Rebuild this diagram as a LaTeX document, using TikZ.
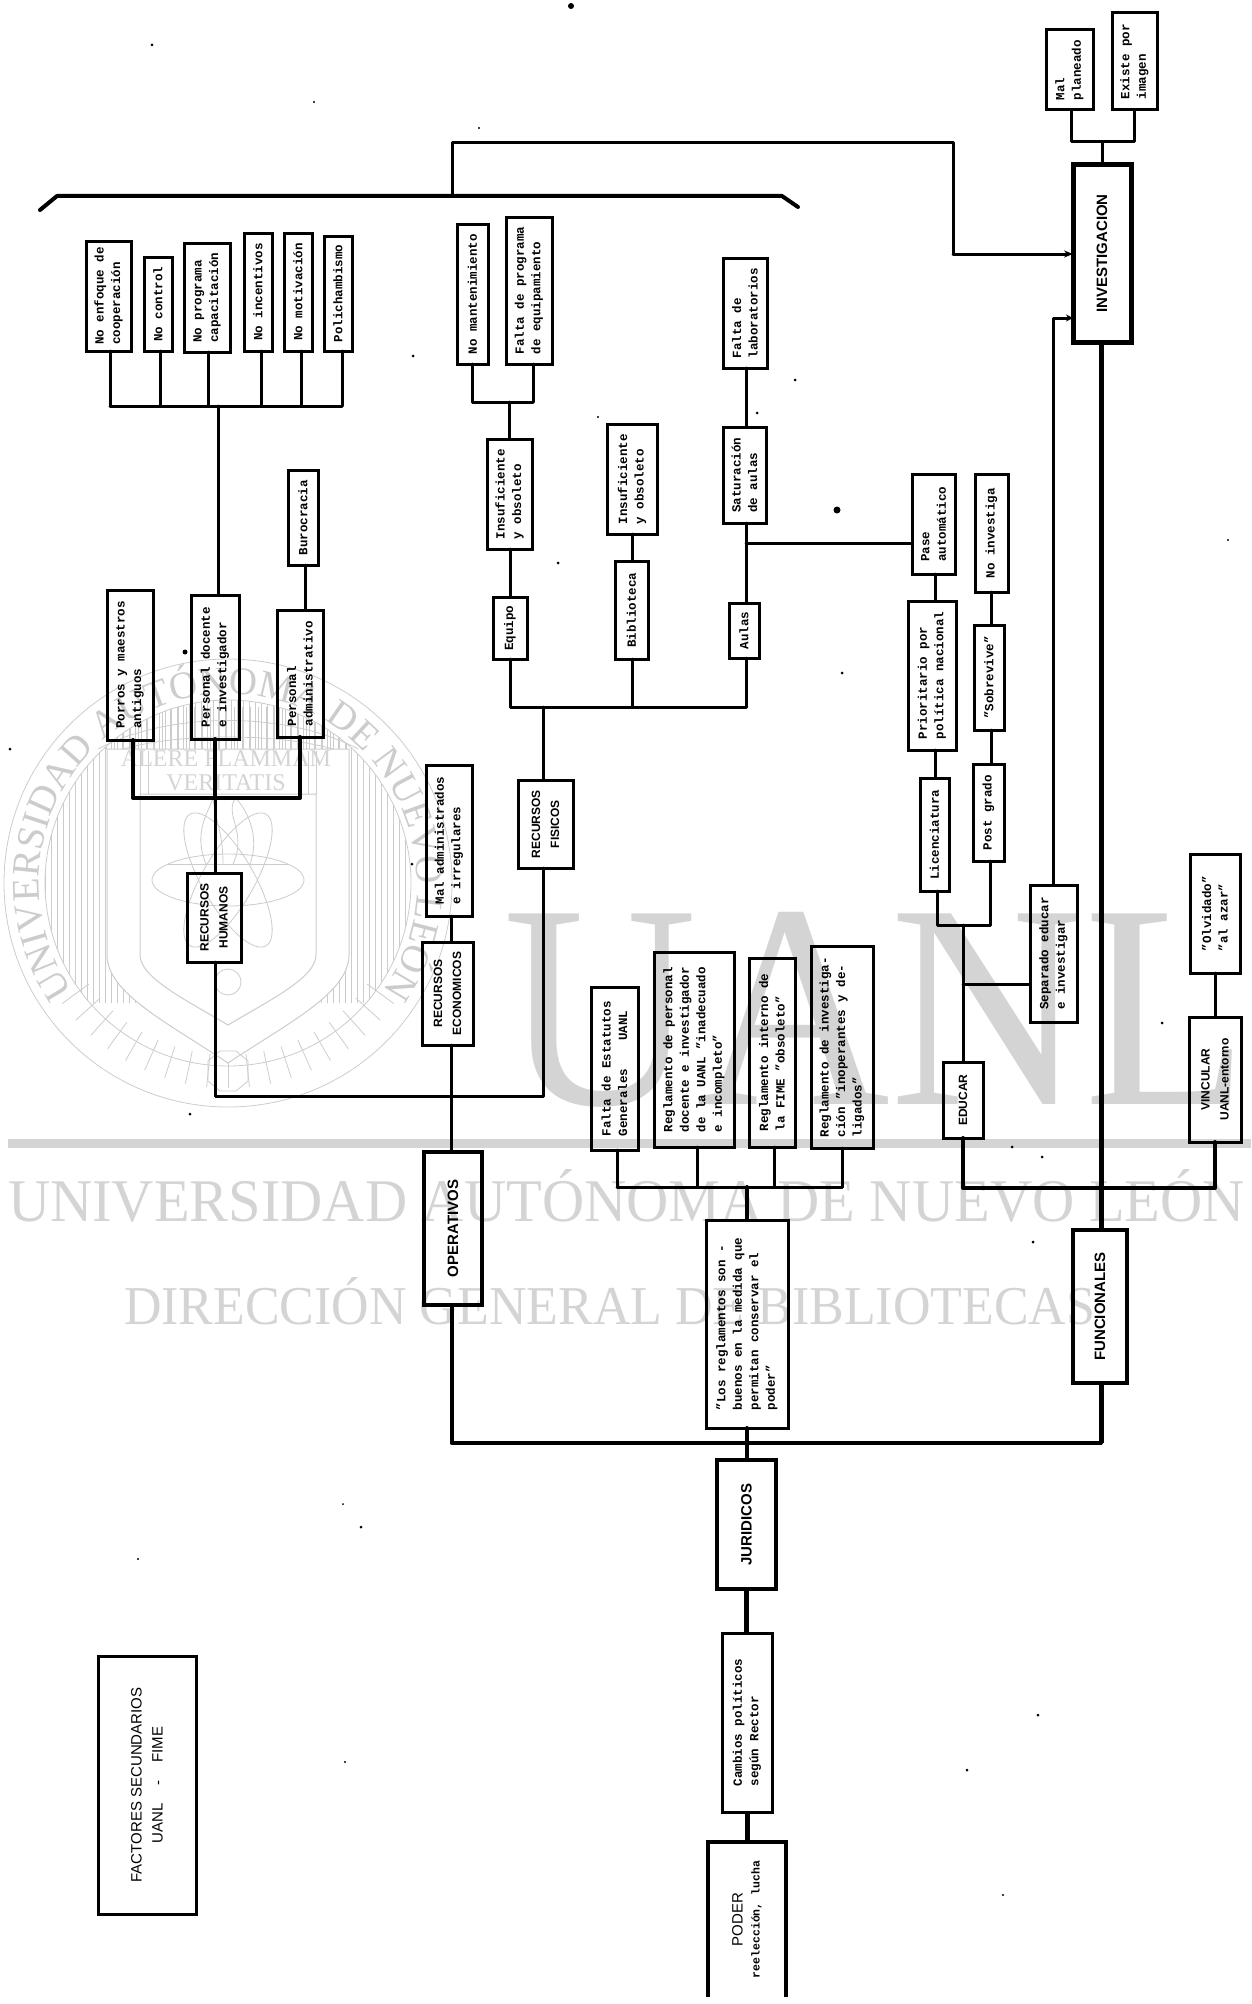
\documentclass[tikz,border=0pt]{standalone}
\usepackage{fontspec}
\setmainfont{Liberation Mono}
\newfontfamily\handf{Liberation Sans}
\newfontfamily\wmf{Liberation Serif}
\usetikzlibrary{arrows.meta,decorations.text}
\definecolor{wm}{gray}{0.83}
\definecolor{wmline}{gray}{0.80}
\tikzset{
  box/.style={draw,line width=3pt,rotate=90,inner sep=0pt,outer sep=0pt,align=left,font=\bfseries\fontsize{12.5}{16.5}\selectfont},
  hbox/.style={box,align=center,font=\handf\bfseries\fontsize{12}{19}\selectfont},
  bigbox/.style={hbox,line width=5pt,font=\handf\bfseries\fontsize{15}{20}\selectfont},
  midbox/.style={bigbox,line width=4pt},
  facbox/.style={hbox,font=\handf\fontsize{15}{21}\selectfont},
  ln/.style={line width=3pt,line cap=round,line join=round},
  thk/.style={line width=5pt,line join=miter},
  wmt/.style={inner sep=0pt,outer sep=0pt,text=wm},
  sealln/.style={draw=wmline,line width=0.8pt},
  speck/.style={fill=black}
}
\newcommand{\bx}[7][box]{\node[#1,minimum width={(#6-#4)*1pt},minimum height={(#5-#3)*1pt}] (#2) at ({(#3+#5)/2},{(#4+#6)/2}) {#7};}
\begin{document}
\begin{tikzpicture}[x=1pt,y=-1pt]
\useasboundingbox (0,0) rectangle (1251,2004);
% ---- watermark
\fill[wm] (8,1139) rectangle (1251,1148);
\node[wmt,anchor=south west] (wmuanl) at (503,1107) {\resizebox{745pt}{192pt}{\wmf UANL}};
\node[wmt,anchor=south west] (wmuni) at (8,1222) {\resizebox{1237pt}{52pt}{\wmf UNIVERSIDAD AUTÓNOMA DE NUEVO LEÓN}};
\node[wmt,anchor=south west] (wmdir) at (124,1325) {\resizebox{971pt}{47pt}{\wmf DIRECCIÓN GENERAL DE BIBLIOTECAS}};
\begin{scope}[shift={(228,883)},x=1pt,y=1pt]
  \begin{scope}
    \clip (0,0) circle (183);
    \foreach \hx in {-183,-177,...,183} {\draw[sealln,line width=0.6pt] (\hx,-120) -- (\hx,183);}
    \foreach \hx in {-130,-122,...,130} {\draw[sealln,line width=0.6pt] (\hx,134) -- (\hx,176);}
  \end{scope}
  \foreach \ang in {216,222,...,324} {\draw[sealln] (\ang:172) -- (\ang:205);}
  \fill[white] (-121,134) -- (121,134) -- (121,-72) .. controls (121,-110) and (60,-140) .. (0,-180) .. controls (-60,-140) and (-121,-110) .. (-121,-72) -- cycle;
  \draw[sealln] (0,0) circle (224);
  \draw[sealln] (0,0) circle (183);
  \draw[sealln,line width=1pt] (-121,134) -- (121,134) -- (121,-72) .. controls (121,-110) and (60,-140) .. (0,-180) .. controls (-60,-140) and (-121,-110) .. (-121,-72) -- cycle;
  \draw[sealln,line width=1pt] (-88,89) -- (88,89) -- (88,-72) .. controls (88,-95) and (40,-118) .. (0,-142) .. controls (-40,-118) and (-88,-95) .. (-88,-72) -- cycle;
  \draw[sealln] (-130,134) .. controls (-60,172) and (60,172) .. (130,134);
  \draw[sealln] (-105,134) .. controls (-50,150) and (50,150) .. (105,134);
  \foreach \cx in {-88,-80,80,88} {\draw[sealln] (\cx,89) -- (\cx,132);}
  \foreach \rr in {0,60,-60} {\draw[sealln] (0,3) ellipse[x radius=76,y radius=26,rotate=\rr];}
  \draw[sealln] (-60,19) -- (60,19);
  \draw[sealln] (-22,19) .. controls (-35,50) and (-20,70) .. (-15,85) .. controls (-12,60) and (-5,50) .. (-5,19);
  \draw[sealln] (5,19) .. controls (20,50) and (-5,70) .. (8,85) .. controls (25,65) and (30,40) .. (22,19);
  \draw[sealln] (0,-99) circle (13);
  \draw[sealln] (-20,-178) -- (-8,-168) -- (8,-168) -- (20,-178) -- (20,-198) -- (8,-208) -- (-8,-208) -- (-20,-198) -- cycle;
  \path[decorate,decoration={text along path,text align={center},text={|\wmf\fontsize{39}{39}\selectfont\color{wmline}|UNIVERSIDAD AUTÓNOMA DE NUEVO LEÓN}}] (226:189) arc[start angle=226,end angle=-46,radius=189];
\end{scope}
\node[wmt,align=center,font=\wmf\fontsize{24}{28}\selectfont] (wmlema) at (226,771) {ALERE FLAMMAM\\[-4pt]VERITATIS};

% ---- specks
\foreach \sx/\sy/\sr in {571/6/3,152/45/1.5,314/102/1.2,479/128/1.2,413/356/1.5,795/380/1.5,757/413/1.5,837/510/3.5,598/417/1.2,558/563/1.5,842/673/1.5,1228/540/1.2,185/652/2.5,10/749/1.5,412/864/1.5,190/1114/1.5,1012/1147/1.5,1042/1157/1.5,1162/1023/1.5,1033/1242/1.5,343/1504/1,361/1527/1.5,138/1559/1.2,345/1762/1.2,1038/1715/1.5,967/1770/1.5,1003/1895/1.2}
  {\fill[speck] (\sx,\sy) circle (\sr);}

% ---- boxes
\bx[bigbox]{inv}{1073}{165}{1131}{342}{INVESTIGACION}
\bx{mal}{1046}{30}{1093}{110}{Mal\\planeado}
\bx{ima}{1112}{13}{1157}{110}{Existe por\\imagen}
\bx{enf}{86}{241}{131}{351}{No enfoque de\\cooperación}
\bx{ctr}{144}{257}{172}{351}{No control}
\bx{prg}{184}{243}{230}{352}{No programa\\capacitación}
\bx{inc}{244}{233}{272}{351}{No incentivos}
\bx{mot}{284}{233}{312}{351}{No motivación}
\bx{pol}{324}{236}{352}{351}{Polichambismo}
\bx{bur}{288}{470}{318}{565}{Burocracia}
\bx{por}{107}{590}{153}{740}{Porros y maestros\\antiguos}
\bx{doc}{191}{595}{239}{739}{Personal docente\\e investigador}
\bx{adm}{277}{610}{323}{737}{Personal\\administrativo}
\bx[hbox]{rh}{187}{873}{241}{962}{RECURSOS\\HUMANOS}
\bx{mad}{426}{765}{472}{916}{Mal administrados\\e irregulares}
\bx[hbox]{rec}{422}{942}{473}{1045}{RECURSOS\\ECONOMICOS}
\bx[hbox]{rf}{518}{780}{573}{868}{RECURSOS\\FISICOS}
\bx{man}{457}{224}{488}{364}{No mantenimiento}
\bx{fpr}{506}{217}{552}{364}{Falta de programa\\de equipamiento}
\bx{in1}{487}{439}{532}{549}{Insuficiente\\y obsoleto}
\bx{eq}{493}{597}{527}{659}{Equipo}
\bx{in2}{607}{424}{657}{534}{Insuficiente\\y obsoleto}
\bx{bib}{615}{561}{648}{659}{Biblioteca}
\bx{lab}{723}{258}{767}{368}{Falta de\\laboratorios}
\bx{sat}{723}{427}{766}{523}{Saturación\\de aulas}
\bx{aul}{729}{603}{759}{658}{Aulas}
\bx{pas}{912}{474}{955}{574}{Pase\\automático}
\bx{pri}{908}{601}{956}{750}{Prioritario por\\política nacional}
\bx{lic}{920}{778}{949}{891}{Licenciatura}
\bx{nin}{975}{474}{1008}{592}{No investiga}
\bx{sob}{974}{625}{1004}{730}{"Sobrevive"}
\bx{pos}{973}{764}{1004}{861}{Post grado}
\bx{sep}{1030}{885}{1077}{1022}{Separado educar\\e investigar}
\bx[hbox]{edu}{943}{1062}{983}{1138}{EDUCAR}
\bx{olv}{1190}{854}{1240}{973}{"Olvidado"\\"al azar"}
\bx[hbox]{vin}{1189}{1017}{1241}{1142}{VINCULAR\\UANL-entorno}
\bx{est}{591}{987}{638}{1150}{Falta de Estatutos\\Generales\hspace{28pt}UANL}
\bx{rper}{654}{952}{734}{1147}{Reglamento de personal\\docente e investigador\\de la UANL "inadecuado\\e incompleto"}
\bx{rint}{749}{958}{795}{1147}{Reglamento interno de\\la FIME "obsoleto"}
\bx{rinv}{811}{946}{873}{1148}{Reglamento de investiga-\\ción "inoperantes y de-\\ligados"}
\bx{reg}{706}{1220}{788}{1428}{"Los reglamentos son -\\buenos en la medida que\\permitan conservar el\\poder"}
\bx[midbox]{ope}{424}{1152}{482}{1305}{OPERATIVOS}
\bx[midbox]{fun}{1073}{1230}{1127}{1383}{FUNCIONALES}
\bx[midbox]{jur}{717}{1460}{776}{1589}{JURIDICOS}
\bx{cam}{722}{1633}{772}{1812}{Cambios políticos\\según Rector}
\node[rotate=90,inner sep=0pt,outer sep=0pt,minimum width=155pt,minimum height=78pt,align=center,font=\handf\fontsize{15}{19}\selectfont] (pod) at (747,1919.5) {PODER\\[-2pt]{\rmfamily\bfseries\fontsize{11.5}{13}\selectfont reelección, lucha}};
\draw[line width=4pt] (pod.south west) -- (pod.south east) -- (pod.north east) -- (pod.north west);
\bx[facbox]{fac}{98}{1656}{196}{1914}{FACTORES SECUNDARIOS\\UANL\hspace{18pt}-\hspace{18pt}FIME}

% ---- bus coordinates
\coordinate (brL) at (57,196);
\coordinate (brR) at (782,196);
\coordinate (brLe) at (40,210);
\coordinate (brRe) at (798,207);
\coordinate (topj) at (452,143);
\coordinate (topc) at (953,143);
\coordinate (topd) at (953,254);
\coordinate (b1) at (0,406);
\coordinate (b2) at (0,402);
\coordinate (b3) at (0,798);
\coordinate (b4) at (0,707);
\coordinate (b5) at (0,1096);
\coordinate (b6) at (0,925);
\coordinate (b7) at (0,984);
\coordinate (b8) at (0,1188);
\coordinate (b9) at (0,1187);
\coordinate (b10) at (0,1443);
\coordinate (b11) at (0,142);
\coordinate (b12) at (0,543);
\coordinate (b13) at (0,318);

% ---- bracket and top connector
\draw[line width=4pt,line cap=round,line join=round] (brLe) -- (brL) -- (brR) -- (brRe);
\draw[ln] (topj |- brL) -- (topj) -- (topc) -- (topd);
\draw[ln,-{Stealth[length=9pt,width=7pt]}] (topd) -- (topd -| inv.north);
% ---- investigacion
\draw[ln] ([xshift=1.5pt]mal.west) -- ([xshift=1.5pt]mal.west |- b11) -- (ima.west |- b11) -- (ima.west);
\draw[ln] (inv.east) -- (inv.east |- b11);
\draw[ln,-{Stealth[length=7pt,width=7pt]}] (sep.east) -- (sep.east |- b13) -- (inv.north |- b13);
\draw[thk] ([xshift=-1pt]inv.west) -- ([xshift=-1pt]inv.west |- fun.east);
% ---- recursos humanos
\foreach \nd/\off in {enf/1.5,ctr/2,prg/1,inc/3,mot/3,pol/4} {\draw[ln] ([xshift=\off pt]\nd.west) -- ([xshift=\off pt]\nd.west |- b1);}
\draw[ln] ([xshift=1.5pt]enf.west |- b1) -- ([xshift=4pt]pol.west |- b1);
\draw[ln] ([xshift=3pt]doc.east |- b1) -- ([xshift=3pt]doc.east);
\draw[ln] ([xshift=2pt]bur.west) -- ([xshift=2pt]bur.west |- adm.east);
\draw[ln,line width=4pt] ([xshift=3pt]por.west) -- ([xshift=3pt]por.west |- b3) -- (adm.west |- b3) -- (adm.west);
\draw[ln,line width=4pt] (doc.west) -- (doc.west |- b3);
\draw[ln] (doc.west |- b3) -- (doc.west |- rh.east);
\draw[ln] ([xshift=1pt]rh.west) -- ([xshift=1pt]rh.west |- b5) -- ([xshift=-2.5pt]rf.west |- b5) -- ([xshift=-2.5pt]rf.west);
% ---- recursos economicos / fisicos
\draw[ln] ([xshift=2pt]mad.west) -- ([xshift=2pt]mad.west |- rec.east);
\draw[ln] ([xshift=3.5pt]rec.west) -- ([xshift=3.5pt]rec.west |- ope.east);
\draw[ln] ([xshift=-2.5pt]rf.east) -- ([xshift=-2.5pt]rf.east |- b4);
\draw[ln] (eq.west) -- (eq.west |- b4) -- ([xshift=2.5pt]aul.west |- b4) -- ([xshift=2.5pt]aul.west);
\draw[ln] ([xshift=1pt]bib.west) -- ([xshift=1pt]bib.west |- b4);
\draw[ln] ([xshift=1pt]bib.east) -- ([xshift=1pt]bib.east |- in2.west);
\draw[ln] (eq.east) -- (eq.east |- in1.west);
\draw[ln] (in1.east) -- (in1.east |- b2);
\draw[ln] (man.west |- b2) -- (man.west);
\draw[ln] ([xshift=4pt]fpr.west |- b2) -- ([xshift=4pt]fpr.west);
\draw[ln] (man.west |- b2) -- ([xshift=4pt]fpr.west |- b2);
\draw[ln] ([xshift=2pt]aul.east) -- ([xshift=2pt]aul.east |- sat.west);
\draw[ln] ([xshift=1pt]lab.west) -- ([xshift=1pt]lab.west |- sat.east);
\draw[ln] ([xshift=2pt]aul.east |- b12) -- (pas.north |- b12);
% ---- educar
\draw[ln] ([xshift=1.5pt]pas.west) -- ([xshift=1.5pt]pas.west |- pri.east);
\draw[ln] ([xshift=3pt]pri.west) -- ([xshift=3pt]pri.west |- lic.east);
\draw[ln] ([xshift=2.5pt]lic.west) -- ([xshift=2.5pt]lic.west |- b6) -- ([xshift=2pt]pos.west |- b6) -- ([xshift=2pt]pos.west);
\draw[ln] (nin.west) -- (nin.west |- sob.east);
\draw[ln] ([xshift=2pt]sob.west) -- ([xshift=2pt]sob.west |- pos.east);
\draw[ln] (edu.east |- b6) -- (edu.east);
\draw[ln] (edu.east |- b7) -- (sep.north |- b7);
\draw[ln,line width=4pt] (edu.west) -- (edu.west |- b8) -- (vin.west |- b8) -- (vin.west);
\draw[ln] (olv.west) -- (olv.west |- vin.east);
\draw[thk] ([xshift=1pt]fun.west) -- ([xshift=1pt]fun.west |- b10);
% ---- juridicos
\foreach \nd/\off in {est/2.5,rper/3,rint/2,rinv/0} {\draw[ln] ([xshift=\off pt]\nd.west) -- ([xshift=\off pt]\nd.west |- b9);}
\draw[ln] ([xshift=2.5pt]est.west |- b9) -- (rinv.west |- b9);
\draw[ln,line width=4pt] (reg.east |- b9) -- (reg.east);
\draw[ln,line width=4pt] ([xshift=-1.5pt]ope.west) -- ([xshift=-1.5pt]ope.west |- b10) -- ([xshift=1pt]fun.west |- b10);
\draw[ln,line width=4pt] (reg.west) -- (reg.west |- jur.east);
\draw[thk] (jur.west) -- (jur.west |- cam.east);
\draw[thk] (cam.west) -- (cam.west |- pod.east);
\end{tikzpicture}
\end{document}
